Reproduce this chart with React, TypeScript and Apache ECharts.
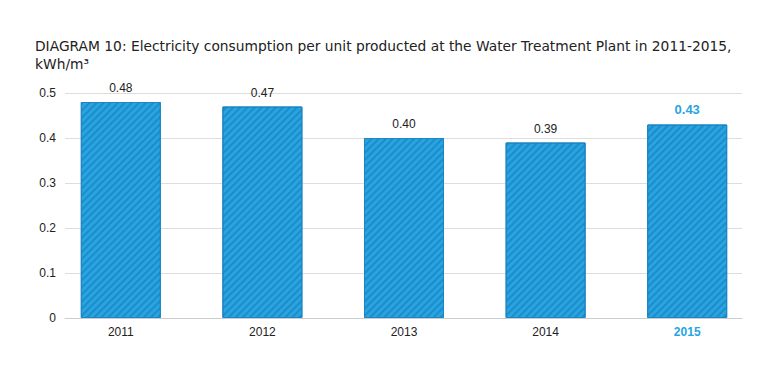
import React, { useEffect, useRef } from "react";
import * as echarts from "echarts";

const years = ["2011", "2012", "2013", "2014", "2015"];
const values = [0.48, 0.47, 0.4, 0.39, 0.43];
const yTicks = [0, 0.1, 0.2, 0.3, 0.4, 0.5];
const titleText =
  "DIAGRAM 10: Electricity consumption per unit producted at the Water Treatment Plant in 2011-2015,\nkWh/m³";

const FONT = "'Liberation Sans', Arial, sans-serif";
const BLUE = "#27a5e0";

export default function App() {
  const ref = useRef<HTMLDivElement>(null);
  useEffect(() => {
    if (!ref.current) return;
    const chart = echarts.init(ref.current, undefined, { renderer: "svg" });
    const last = years.length - 1;
    chart.setOption({
      animation: false,
      title: {
        text: titleText,
        left: 35,
        top: 37,
        padding: 0,
        textStyle: { fontFamily: "'DejaVu Sans', sans-serif", fontSize: 13.8, fontWeight: "normal", color: "#222", lineHeight: 18 },
      },
      grid: [
        { left: 65, right: 35, top: 93, bottom: 54 },
        { left: 50, right: 19, top: 93, bottom: 54 },
      ],
      xAxis: [
        {
          type: "category",
          gridIndex: 0,
          data: years,
          axisLine: { show: true, lineStyle: { color: "#cccccc" } },
          axisTick: { show: false },
          axisLabel: { show: false },
        },
        {
          type: "category",
          gridIndex: 1,
          data: years,
          axisLine: { show: false },
          axisTick: { show: false },
          axisLabel: {
            margin: 8,
            fontFamily: FONT,
            fontSize: 12,
            color: "#222",
            formatter: (v: string, i: number) => (i === last ? `{b|${v}}` : v),
            rich: { b: { fontFamily: FONT, fontSize: 12, fontWeight: "bold", color: BLUE } },
          },
        },
      ],
      yAxis: [
        {
          type: "value",
          gridIndex: 0,
          min: yTicks[0],
          max: yTicks[yTicks.length - 1],
          interval: 0.1,
          axisLine: { show: false },
          axisTick: { show: false },
          splitLine: { lineStyle: { color: "#dddddd" } },
          axisLabel: {
            margin: 9,
            fontFamily: FONT,
            fontSize: 12,
            color: "#222",
            formatter: (v: number) => (v === 0 ? "0" : v.toFixed(1)),
          },
        },
        {
          type: "value",
          gridIndex: 1,
          min: yTicks[0],
          max: yTicks[yTicks.length - 1],
          interval: 0.1,
          show: false,
        },
      ],
      series: [
        {
          type: "bar",
          xAxisIndex: 1,
          yAxisIndex: 1,
          barWidth: 80,
          data: values.map((v, i) => ({
            value: v,
            label:
              i === last
                ? { color: BLUE, fontWeight: "bold", fontSize: 13, distance: 9 }
                : undefined,
          })),
          itemStyle: {
            color: BLUE,
            borderColor: "#1b86c2",
            borderWidth: 1,
            decal: {
              symbol: "rect",
              color: "rgba(20,100,170,0.4)",
              dashArrayX: [1, 0],
              dashArrayY: [1.2, 3],
              rotation: -Math.PI / 4,
            },
          },
          label: {
            show: true,
            position: "top",
            distance: 8,
            fontFamily: FONT,
            fontSize: 12,
            color: "#222",
            formatter: (p: any) => p.value.toFixed(2),
          },
        },
      ],
    });
    return () => chart.dispose();
  }, []);
  return (
    <div
      ref={ref}
      style={{ position: "absolute", left: 0, top: 0, width: 777, height: 372 }}
    />
  );
}
